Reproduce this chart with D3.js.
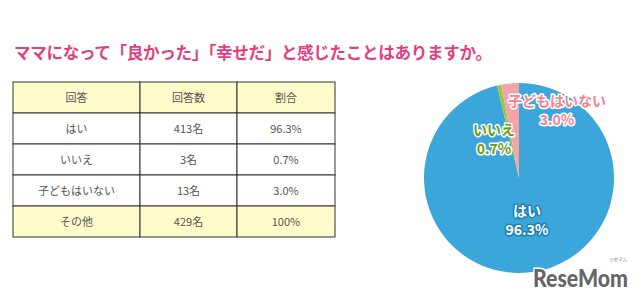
<!DOCTYPE html>
<html><head><meta charset="utf-8">
<script src="https://cdn.jsdelivr.net/npm/d3@7"></script>
<style>body{margin:0;background:#fff;}svg{display:block;font-family:"Noto Sans CJK JP","Noto Sans",sans-serif;}</style>
</head><body>
<svg id="c" width="643" height="299"></svg>
<script>
const title = "ママになって「良かった」「幸せだ」と感じたことはありますか。";
const headers = ["回答", "回答数", "割合"];
const answers = ["はい", "いいえ", "子どもはいない"];
const counts = [413, 3, 13];
const shares = [96.3, 0.7, 3.0];
const totalLabel = "その他";
const totalCount = 429;
const totalShare = "100%";
const sliceColors = ["#3aa6da", "#9ac73c", "#f5a3ab"];

const svg = d3.select("#c");

svg.append("text").attr("x", 14).attr("y", 59)
  .attr("font-size", 16.6).attr("font-weight", "bold").attr("fill", "#e23f80")
  .attr("textLength", 478).attr("lengthAdjust", "spacing")
  .text(title);

// Table
const rows = [headers]
  .concat(answers.map((a, i) => [a, counts[i] + "名", shares[i].toFixed(1) + "%"]))
  .concat([[totalLabel, totalCount + "名", totalShare]]);
const colX = [13, 140, 237, 335];
const y = d3.scaleBand().domain(d3.range(rows.length)).range([82, 237]);
const tbl = svg.append("g");
rows.forEach((r, i) => {
  const hl = i === 0 || i === rows.length - 1;
  r.forEach((cell, j) => {
    tbl.append("rect").attr("x", colX[j]).attr("y", y(i))
      .attr("width", colX[j + 1] - colX[j]).attr("height", y.bandwidth())
      .attr("fill", hl ? "#fffccb" : "#fff").attr("stroke", "#333").attr("stroke-width", 1);
    tbl.append("text").attr("x", (colX[j] + colX[j + 1]) / 2).attr("y", y(i) + y.bandwidth() / 2 + 4)
      .attr("text-anchor", "middle").attr("font-size", 11).attr("fill", "#555")
      .text(cell);
  });
});

// Pie
const cx = 519, cy = 178, R = 95;
const pie = d3.pie().sort(null).value(d => d)(shares);
const arc = d3.arc().innerRadius(0).outerRadius(R);
const pg = svg.append("g").attr("transform", `translate(${cx},${cy})`);
pg.selectAll("path").data(pie).join("path")
  .attr("d", arc).attr("fill", (d, i) => sliceColors[i]);

const labels = [
  {lines: [answers[0], shares[0].toFixed(1) + "%"], x: 527, y: 211, fill: "#fff", stroke: "#1f7fb0"},
  {lines: [answers[1], shares[1].toFixed(1) + "%"], x: 494, y: 130, fill: "#6e9c14", stroke: "#fff"},
  {lines: [answers[2], shares[2].toFixed(1) + "%"], x: 557, y: 101, fill: "#f08592", stroke: "#fff"}
];
labels.forEach(l => {
  l.lines.forEach((t, k) => {
    const yy = l.y + k * 19 + 5;
    svg.append("text").attr("x", l.x).attr("y", yy).attr("text-anchor", "middle")
      .attr("font-size", 14).attr("font-weight", "bold").attr("fill", l.fill)
      .attr("stroke", l.stroke).attr("stroke-width", 3).attr("stroke-linejoin", "round")
      .attr("paint-order", "stroke")
      .text(t);
  });
});

// Logo
svg.append("text").attr("x", 533).attr("y", 287).attr("font-size", 24).attr("font-weight", "900")
  .attr("font-family", "Lato, sans-serif").attr("fill", "#666").attr("stroke", "#fff").attr("stroke-width", 3)
  .attr("paint-order", "stroke").attr("textLength", 95).attr("lengthAdjust", "spacingAndGlyphs").text("ReseMom");
svg.append("text").attr("x", 618).attr("y", 261).attr("font-size", 4.5).attr("text-anchor", "middle").attr("fill", "#777").text("リセマム");
</script>
</body></html>
